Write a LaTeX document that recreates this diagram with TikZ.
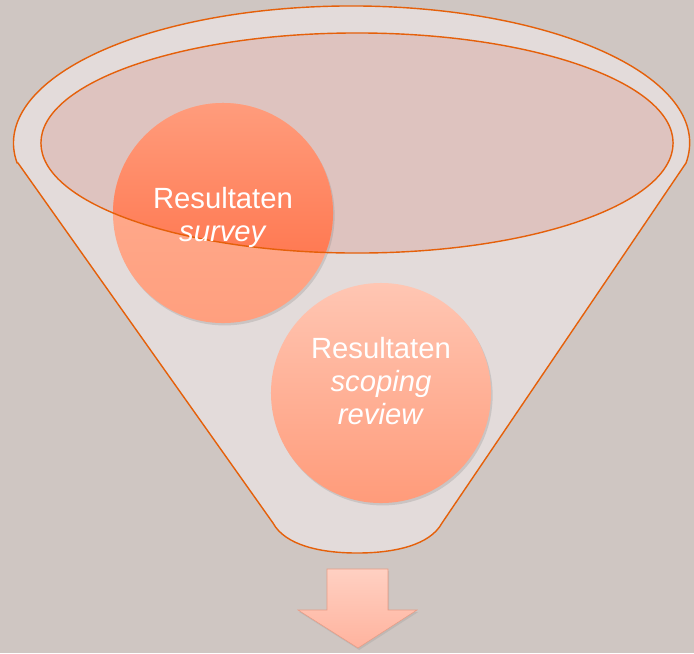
\documentclass[tikz,border=0pt]{standalone}
\usepackage{fontspec}
\setmainfont{Liberation Sans}
\usepackage{tikz}
\usetikzlibrary{arrows,calc,positioning,shadows,shapes}

\definecolor{backdrop}{HTML}{CFC6C2}
\definecolor{funnelfill}{HTML}{E3DBDA}
\definecolor{rimfill}{HTML}{DEC3BF}
\definecolor{rimline}{HTML}{E5600A}
\definecolor{surveytop}{HTML}{FFB095}
\definecolor{surveybottom}{HTML}{FF9F7E}
\definecolor{warmtop}{HTML}{FF9C7C}
\definecolor{warmbottom}{HTML}{FF6A40}
\definecolor{reviewtop}{HTML}{FFC6B3}
\definecolor{reviewbottom}{HTML}{FF9B7A}
\definecolor{arrowtop}{HTML}{FFD0C2}
\definecolor{arrowbottom}{HTML}{FFB39E}
\definecolor{arrowedge}{HTML}{E89C86}

\tikzset{
	bubble/.style={circle, minimum size=5.5cm, inner sep=0pt,
		drop shadow={opacity=0.25, shadow xshift=0.04cm, shadow yshift=-0.06cm}},
	caption/.style={align=center, text=white, font=\fontsize{20.8}{23.5}\selectfont},
	outline/.style={draw=rimline, line width=1pt},
}

\begin{document}
\begin{tikzpicture}[x=0.025cm, y=-0.025cm]
	% Page and funnel body
	\fill[backdrop] (0,0) rectangle (694,653);
	\useasboundingbox (0,0) rectangle (694,653);
	\coordinate (rim) at (357,143);
	\filldraw[fill=funnelfill, outline] (18,163) -- (273,523)
		.. controls (285,545) and (320,553) .. (357,553)
		.. controls (395,553) and (430,545) .. (442,523) -- (686,163)
		arc [start angle=-8.4, end angle=188.4, x radius=8.45cm, y radius=3.425cm] -- cycle;
	\fill[rimfill] (rim) ellipse [x radius=7.9cm, y radius=2.75cm];
	
	% Place bubbles
	\node [bubble, top color=surveytop, bottom color=surveybottom,
		path picture={
			\clip (rim) ellipse [x radius=7.9cm, y radius=2.75cm];
			\shade[top color=warmtop, bottom color=warmbottom]
				(path picture bounding box.south west) rectangle (path picture bounding box.north east);
		}] (survey) at (223,213) {};
	\node [bubble, top color=reviewtop, bottom color=reviewbottom] (review) at (381,393) {};
	
	% Rim of the funnel mouth
	\draw[outline] (rim) ellipse [x radius=7.9cm, y radius=2.75cm];
	
	% Bubble texts
	\node [caption, yshift=-0.1cm] (surveytext) at (survey) {Resultaten\\\textit{survey}};
	\node [caption, yshift=0.3cm] (reviewtext) at (review) {Resultaten\\\textit{scoping}\\\textit{review}};
	
	% Outlet arrow
	\shade[top color=arrowtop, bottom color=arrowbottom, draw=arrowedge,
		drop shadow={opacity=0.2, shadow xshift=0.03cm, shadow yshift=-0.05cm}]
		(327,569) -- (388,569) -- (388,610) -- (417,610) -- (358,648) -- (298,610) -- (327,610) -- cycle;
\end{tikzpicture}
\end{document}
